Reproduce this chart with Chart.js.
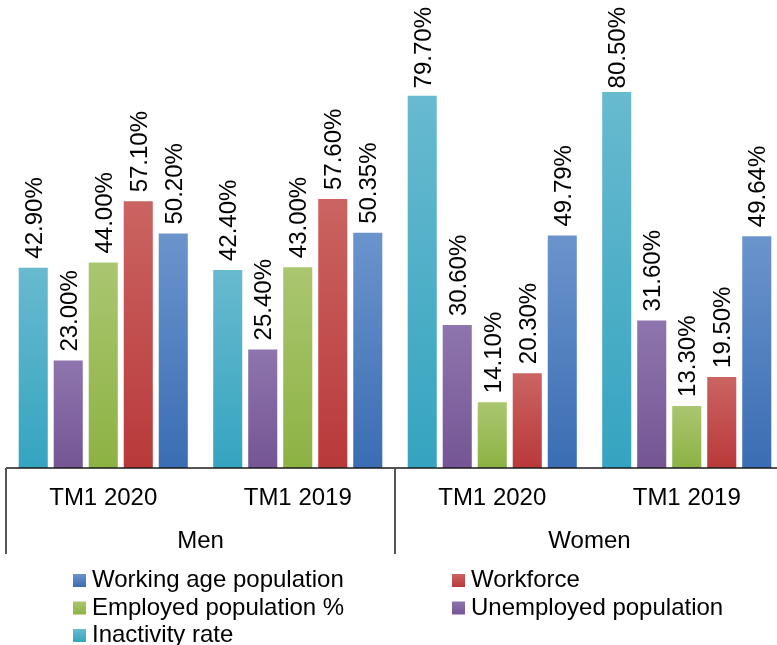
<!DOCTYPE html>
<html>
<head>
<meta charset="utf-8">
<title>Labour indicators TM1</title>
<script src="https://cdn.jsdelivr.net/npm/chart.js@4/dist/chart.umd.min.js"></script>
<style>
  html, body { margin: 0; padding: 0; background: #fff; overflow: hidden; }
  #wrap { width: 777px; height: 645px; overflow: hidden; position: relative; }
  #chartLabour { position: absolute; left: 0; top: 0; }
</style>
</head>
<body>
<div id="wrap">
  <canvas id="chartLabour" width="790" height="645"></canvas>
</div>
<script>
const periodos = ['TM1 2020', 'TM1 2019', 'TM1 2020', 'TM1 2019'];
const grupos = ['Men', 'Women'];

const inactividad = [42.90, 42.40, 79.70, 80.50];
const desempleados = [23.00, 25.40, 30.60, 31.60];
const empleados = [44.00, 43.00, 14.10, 13.30];
const fuerzaLaboral = [57.10, 57.60, 20.30, 19.50];
const edadTrabajo = [50.20, 50.35, 49.79, 49.64];

const FUENTE = '"Liberation Sans", Arial, sans-serif';

// colores: [arriba, abajo] de cada barra
const colores = {
  cyan: ['#68bacf', '#35a4c0'],
  morado: ['#8e75ad', '#755594'],
  verde: ['#aac670', '#8db243'],
  rojo: ['#ca6462', '#b9393a'],
  azul: ['#6b94cc', '#3a6db3']
};

function degradado(par) {
  return function (c) {
    const chart = c.chart;
    const y = chart.scales.y;
    if (!chart.chartArea || !y || c.parsed === undefined) return par[1];
    const arriba = y.getPixelForValue(c.parsed.y);
    const abajo = y.getPixelForValue(0);
    const g = chart.ctx.createLinearGradient(0, arriba, 0, abajo);
    g.addColorStop(0, par[0]);
    g.addColorStop(1, par[1]);
    return g;
  };
}

const series = [
  {label: 'Inactivity rate', data: inactividad, par: colores.cyan},
  {label: 'Unemployed population', data: desempleados, par: colores.morado},
  {label: 'Employed population %', data: empleados, par: colores.verde},
  {label: 'Workforce', data: fuerzaLaboral, par: colores.rojo},
  {label: 'Working age population', data: edadTrabajo, par: colores.azul}
];

// etiquetas de valor giradas encima de cada barra
const etiquetas = {
  id: 'etiquetas',
  afterDatasetsDraw(chart) {
    const ctx = chart.ctx;
    ctx.save();
    ctx.font = '24px ' + FUENTE;
    ctx.fillStyle = '#000';
    ctx.textAlign = 'left';
    ctx.textBaseline = 'middle';
    chart.data.datasets.forEach((ds, i) => {
      chart.getDatasetMeta(i).data.forEach((bar, j) => {
        const txt = ds.data[j].toFixed(2) + '%';
        const w = ctx.measureText(txt).width;
        let inicio = bar.y - 9;
        if (inicio - w < 7) inicio = 7 + w;
        ctx.save();
        ctx.translate(bar.x + 2, inicio);
        ctx.rotate(-Math.PI / 2);
        ctx.fillText(txt, 0, 0);
        ctx.restore();
      });
    });
    ctx.restore();
  }
};

// eje de categorias en dos niveles y leyenda en dos columnas
const ejeYLeyenda = {
  id: 'ejeYLeyenda',
  afterDraw(chart) {
    const ctx = chart.ctx;
    const x = chart.scales.x;
    const area = chart.chartArea;
    const base = area.bottom;
    const paso = x.getPixelForValue(1) - x.getPixelForValue(0);
    const izq = x.getPixelForValue(0) - paso / 2;
    ctx.save();
    ctx.strokeStyle = '#1a1a1a';
    ctx.lineWidth = 1.5;
    ctx.beginPath();
    ctx.moveTo(izq, base);
    ctx.lineTo(izq + paso * 4, base);
    ctx.stroke();
    ctx.strokeStyle = '#555';
    ctx.lineWidth = 2;
    [0, 2, 4].forEach(k => {
      const px = Math.round(izq + paso * k);
      ctx.beginPath();
      ctx.moveTo(px, base);
      ctx.lineTo(px, base + 86);
      ctx.stroke();
    });

    ctx.fillStyle = '#000';
    ctx.font = '24px ' + FUENTE;
    ctx.textAlign = 'center';
    ctx.textBaseline = 'alphabetic';
    periodos.forEach((p, i) => {
      ctx.fillText(p, x.getPixelForValue(i), base + 37);
    });
    grupos.forEach((g, i) => {
      ctx.fillText(g, izq + paso * (2 * i + 1), base + 80);
    });

    // leyenda: orden inverso, filas de dos
    const items = chart.data.datasets.slice().reverse();
    const columnas = [73, 452];
    const filas = [574, 601.5, 629];
    ctx.textAlign = 'left';
    items.forEach((ds, k) => {
      const cx = columnas[k % 2];
      const cy = filas[Math.floor(k / 2)];
      const g = ctx.createLinearGradient(0, cy, 0, cy + 13);
      g.addColorStop(0, ds.par[0]);
      g.addColorStop(1, ds.par[1]);
      ctx.fillStyle = g;
      ctx.fillRect(cx, cy, 13, 13);
      ctx.fillStyle = '#000';
      ctx.fillText(ds.label, cx + 19, cy + 13);
    });
    ctx.restore();
  }
};

new Chart(document.getElementById('chartLabour'), {
  type: 'bar',
  data: {
    labels: periodos,
    datasets: series.map(s => ({
      label: s.label,
      data: s.data,
      par: s.par,
      backgroundColor: degradado(s.par),
      borderWidth: 0,
      categoryPercentage: 0.9,
      barPercentage: 0.83
    }))
  },
  options: {
    responsive: false,
    animation: false,
    layout: {padding: {left: 6, right: 6, top: 1, bottom: 177}},
    plugins: {
      legend: {display: false},
      tooltip: {enabled: false}
    },
    scales: {
      x: {display: false},
      y: {display: false, min: 0, max: 100}
    }
  },
  plugins: [etiquetas, ejeYLeyenda]
});
</script>
</body>
</html>
